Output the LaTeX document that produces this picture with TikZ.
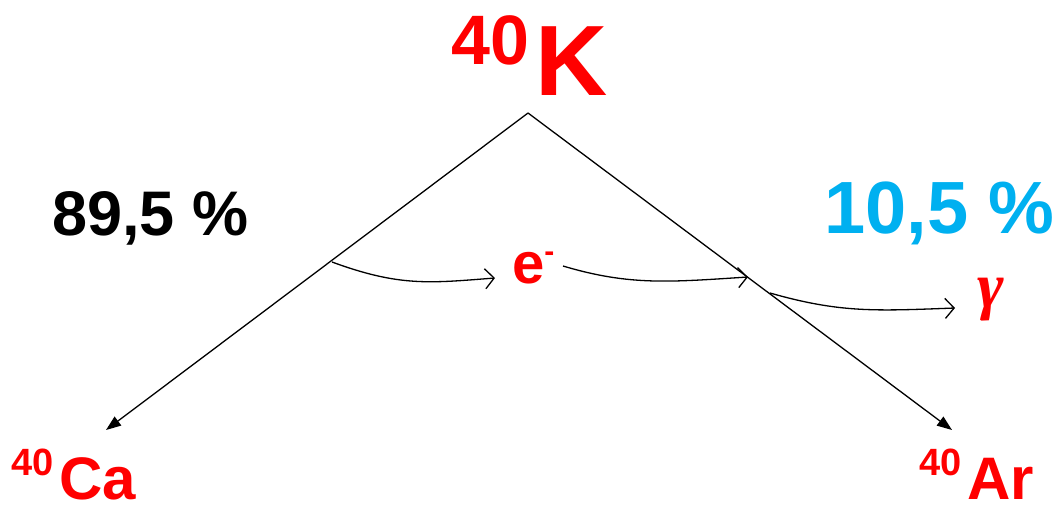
\documentclass[tikz,border=0pt]{standalone}
\usepackage{fontspec}
\setmainfont{Liberation Sans}
\newfontfamily\greekfont{Liberation Serif}
\usetikzlibrary{arrows.meta}
\definecolor{isored}{RGB}{255,0,0}
\definecolor{branchblue}{RGB}{0,176,240}
% mass number raised in front of the element symbol
\newcommand{\isotope}[5]{{\fontsize{#2}{#2}\selectfont\raisebox{#5}{#1}}\kern6pt{\fontsize{#4}{#4}\selectfont #3}}
\begin{document}
\begin{tikzpicture}[x=1pt,y=-1pt,
  decay/.style={line width=1.3pt,-{Triangle[length=15pt,width=11pt]}},
  emit/.style={line width=1.3pt,-{Straight Barb[length=9pt,width=20pt]}},
  isolabel/.style={text=isored,font=\bfseries,inner sep=0pt,anchor=base west},
  ratio/.style={font=\bfseries,inner sep=0pt,anchor=base west}]
\useasboundingbox (0,0) rectangle (1057,507);

% Parent and daughter nuclides
\node[isolabel] (k) at (451,95) {\isotope{40}{70}{K}{100}{31pt}};
\node[isolabel] (ca) at (11,499) {\isotope{40}{38}{Ca}{60}{24pt}};
\node[isolabel] (ar) at (919,499) {\isotope{40}{38}{Ar}{60}{24pt}};

% Branching ratios
\node[ratio] (beta) at (52,235) {\fontsize{63}{63}\selectfont 89,5 \%};
\node[ratio,text=branchblue] (ec) at (824,233) {\fontsize{74}{74}\selectfont 10,5 \%};

% Emitted particles
\node[isolabel] (el) at (512,283) {\fontsize{58}{58}\selectfont e\raisebox{22pt}{\fontsize{30}{30}\selectfont -}};
\node[text=isored,inner sep=0pt] (gam) at (991,300) {\fontsize{64}{64}\selectfont\greekfont\bfseries\itshape γ};

% Decay branches
\coordinate (apex) at (528,113);
\coordinate (catip) at (106,430);
\coordinate (artip) at (952,430);
\draw[decay] (apex) -- (catip);
\draw[decay] (apex) -- (artip);

% Curved arrows for the emissions
\coordinate (splitL) at (332,262);
\coordinate (eIn) at (495,278);
\coordinate (eOut) at (563,266);
\coordinate (splitR) at (748,277);
\coordinate (gStart) at (770,293);
\coordinate (gIn) at (955,308);
\draw[emit] (splitL) .. controls (400,287) and (430,283) .. (eIn);
\draw[emit] (eOut) .. controls (630,286) and (670,282) .. (splitR);
\draw[emit] (gStart) .. controls (840,313) and (875,311) .. (gIn);
\end{tikzpicture}
\end{document}
